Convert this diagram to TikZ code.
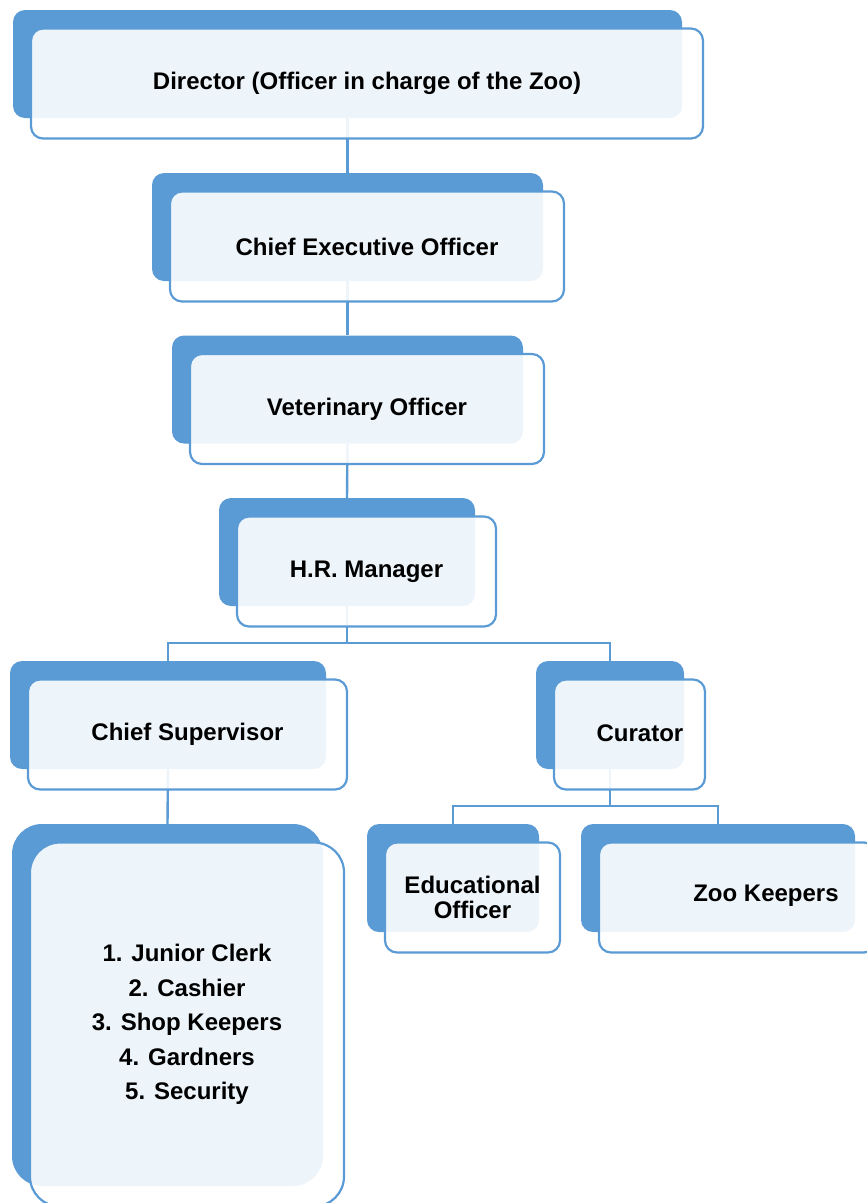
\documentclass[tikz,border=0pt]{standalone}
\usepackage{fontspec}
\setmainfont{Liberation Sans}
\usetikzlibrary{positioning}
\definecolor{orgblue}{RGB}{91,155,213}

\begin{document}
\begin{tikzpicture}[
    x=1pt, y=-1pt,
    back/.style 2 args={fill=orgblue, rounded corners=12pt, minimum width=#1pt, minimum height=#2pt, inner sep=0pt},
    front/.style 2 args={draw=orgblue, line width=2.2pt, fill=white, fill opacity=0.9, text opacity=1,
        rounded corners=12pt, minimum width=#1pt, minimum height=#2pt, inner sep=0pt,
        font=\fontsize{24}{34.5}\selectfont\bfseries, align=center},
    lbl/.style={font=\fontsize{24}{34.5}\selectfont\bfseries, inner sep=0pt},
    conn/.style={draw=orgblue, line width=2.4pt}
]
\useasboundingbox (0,0) rectangle (867,1203);

% back boxes
\node [back={669}{108}] (dirB) at (347.5,64) {};
\node [back={391}{108}] (ceoB) at (347.5,227) {};
\node [back={351}{108}] (vetB) at (347.5,389.5) {};
\node [back={256}{108}] (hrB) at (347,552) {};
\node [back={316}{108}] (csB) at (168,715) {};
\node [back={148}{108}] (curB) at (610,715) {};
\node [back={172}{108}] (eduB) at (453,878) {};
\node [back={274}{108}] (zooB) at (718,878) {};
\node [back={311}{362}, rounded corners=30pt] (listB) at (167.5,1005) {};

% connectors
\coordinate (hrJ) at (347,643);
\coordinate (curJ) at (610,806);
\draw[conn] (dirB.south) -- (ceoB.north);
\draw[conn] (ceoB.south) -- (vetB.north);
\draw[conn] (vetB.south) -- (hrB.north);
\draw[conn] (hrB.south) -- (hrJ) -| (csB.north);
\draw[conn] (hrJ) -| (curB.north);
\draw[conn] (csB.south) -- (listB.north);
\draw[conn] (curB.south) -- (curJ) -| (eduB.north);
\draw[conn] (curJ) -| (zooB.north);

% front boxes
\node [front={672}{110}] (dir) at ([shift={(19.5,19.5)}]dirB.center) {Director (Officer in charge of the Zoo)};
\node [front={394}{110}] (ceo) at ([shift={(19.5,19.5)}]ceoB.center) {Chief Executive Officer};
\node [front={354}{110}] (vet) at ([shift={(19.5,19.5)}]vetB.center) {Veterinary Officer};
\node [front={259}{110}] (hr) at ([shift={(19.5,19.5)}]hrB.center) {H.R. Manager};
\node [front={319}{110}] (cs) at ([shift={(19.5,19.5)}]csB.center) {Chief Supervisor};
\node [front={151}{110}] (cur) at ([shift={(19.5,19.5)}]curB.center) {};
\node [front={175}{110}, font=\fontsize{24}{25}\selectfont\bfseries] (edu) at ([shift={(19.5,19.5)}]eduB.center) {Educational\\Officer};
\node [front={277}{110}] (zoo) at ([shift={(19.5,19.5)}]zooB.center) {};
\node [front={314}{364}, rounded corners=30pt] (list) at ([shift={(19.5,19.5)}]listB.center) {1. Junior Clerk\\2. Cashier\\3. Shop Keepers\\4. Gardners\\5. Security};

\node [lbl] (curT) at (640,733) {Curator};
\node [lbl] (zooT) at (766,896) {Zoo Keepers};
\end{tikzpicture}
\end{document}
